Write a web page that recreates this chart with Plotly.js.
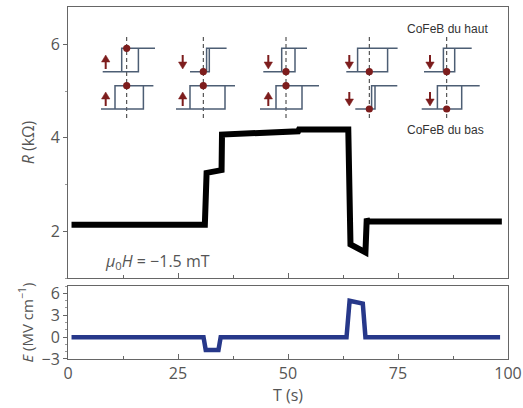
<!DOCTYPE html>
<html>
<head>
<meta charset="utf-8">
<script src="https://cdn.plot.ly/plotly-3.0.1.min.js"></script>
<style>html,body{margin:0;padding:0;background:#fff;}</style>
</head>
<body>
<div id="chart" style="width:523px;height:408px;"></div>
<script>
// ---- Data ----
const timeR = [0.8, 31.1, 31.5, 34.9, 35.0, 52.3, 52.5, 63.7, 64.2, 67.6, 67.9, 68.2, 98.6];
const resistance = [2.14, 2.14, 3.25, 3.31, 4.07, 4.14, 4.18, 4.18, 1.72, 1.55, 2.27, 2.21, 2.21];

const timeE = [0.8, 30.8, 31.3, 34.2, 34.7, 63.3, 64.0, 67.0, 67.6, 98.2];
const field = [0, 0, -1.75, -1.75, 0, 0, 5.0, 4.6, 0, 0];

const xTicks = [0, 25, 50, 75, 100];
const rTicks = [2, 4, 6];
const eTicks = [-3, 0, 3, 6];

// Inset states (5 columns): arrow direction and dot position for each layer
const topArrow = ['up', 'down', 'down', 'down', 'down'];
const bottomArrow = ['up', 'up', 'up', 'down', 'down'];
const topDot = ['top', 'bottom', 'bottom', 'bottom', 'bottom'];
const bottomDot = ['top', 'top', 'top', 'bottom', 'bottom'];

// ---- Inset geometry (schematic, in pixels) ----
const L = 68, T = 7, W = 440, H = 352;
const px = x => (x - L) / W;
const py = y => (T + H - y) / H;
const colX = [126.7, 203.3, 286, 369.3, 446.7];
// loop offsets [tailLeft, leftVertical, rightVertical, tailRight] relative to dashed line
const topLoop = [[-24, -5, 11.7, 28.3], [-13.3, 3.3, 6, 23.3], [-22.7, -4.3, 9, 21], [-23, -11.7, 18.3, 28.3], [-22.7, -3.3, 8, 25]];
const botLoop = [[-25.7, -11.7, 16.7, 26.7], [-27.3, -13.3, 21.7, 31.7], [-26, -10, 16, 33], [-14, 2.3, 5.7, 28], [-25, -9.3, 15, 33]];
const arrowDx = [-21, -20.6, -17.7, -20, -16.7];
const rows = [{yt: 48.3, yb: 71.7, a0: 55, a1: 69}, {yt: 85.7, yb: 109, a0: 92, a1: 106}];

const shapes = [];
const loopColor = '#4d5e74', redC = '#7d1d1d';
function path(pts) { return pts.map((p, i) => (p[0] === 'M' ? 'M' : (i === 0 ? 'M' : 'L')) + px(p[1]).toFixed(5) + ',' + py(p[2]).toFixed(5)).join(' '); }
colX.forEach((cx, i) => {
  shapes.push({type: 'line', xref: 'paper', yref: 'paper', x0: px(cx), x1: px(cx), y0: py(37), y1: py(118),
    line: {color: '#333', width: 1, dash: '4px,3px'}, layer: 'above'});
  [[topLoop[i], rows[0], topArrow[i], topDot[i]], [botLoop[i], rows[1], bottomArrow[i], bottomDot[i]]].forEach(([lp, r, dir, dot]) => {
    const [o0, oa, ob, o1] = lp;
    const d = path([['M', cx + o0, r.yb], ['L', cx + ob, r.yb], ['L', cx + ob, r.yt], ['L', cx + o1, r.yt],
      ['M', cx + oa, r.yb], ['L', cx + oa, r.yt], ['L', cx + ob, r.yt]]);
    shapes.push({type: 'path', xref: 'paper', yref: 'paper', path: d, line: {color: loopColor, width: 1.5}, layer: 'above'});
    const dy = dot === 'top' ? r.yt : r.yb;
    const rr = 3.6;
    shapes.push({type: 'circle', xref: 'paper', yref: 'paper', x0: px(cx - rr), x1: px(cx + rr), y0: py(dy + rr), y1: py(dy - rr),
      fillcolor: redC, line: {color: redC, width: 0}, layer: 'above'});
    const ax = cx + arrowDx[i];
    const tip = dir === 'up' ? r.a0 : r.a1;
    const tail = dir === 'up' ? r.a1 : r.a0;
    const s = dir === 'up' ? 1 : -1;
    shapes.push({type: 'line', xref: 'paper', yref: 'paper', x0: px(ax), x1: px(ax), y0: py(tail), y1: py(tip + s * 5),
      line: {color: redC, width: 2}, layer: 'above'});
    shapes.push({type: 'path', xref: 'paper', yref: 'paper',
      path: path([['M', ax, tip], ['L', ax - 4.2, tip + s * 7], ['L', ax + 4.2, tip + s * 7]]) + ' Z',
      fillcolor: redC, line: {color: redC, width: 0.5}, layer: 'above'});
  });
});

const tickFont = {family: 'Open Sans, sans-serif', size: 16, color: '#555'};
const axisCommon = {showline: true, linecolor: '#666', linewidth: 1, mirror: true, zeroline: false, showgrid: false,
  tickcolor: '#666', tickfont: tickFont};

const traces = [
  {x: timeR, y: resistance, xaxis: 'x', yaxis: 'y', mode: 'lines', line: {color: '#000', width: 6}, hoverinfo: 'skip'},
  {x: timeE, y: field, xaxis: 'x2', yaxis: 'y2', mode: 'lines', line: {color: '#27388a', width: 4.5}, hoverinfo: 'skip'}
];

const layout = {
  width: 523, height: 408,
  margin: {l: L, r: 523 - L - W, t: T, b: 408 - T - H},
  paper_bgcolor: '#fff', plot_bgcolor: '#fff',
  showlegend: false,
  xaxis: Object.assign({}, axisCommon, {domain: [0, 1], anchor: 'y', range: [0, 100], tickvals: xTicks, showticklabels: false,
    ticks: 'inside', ticklen: 5, minor: {dtick: 12.5, ticks: 'inside', ticklen: 3, tickcolor: '#666'}}),
  xaxis2: Object.assign({}, axisCommon, {domain: [0, 1], anchor: 'y2', range: [0, 100], tickvals: xTicks,
    ticks: 'inside', ticklen: 5, minor: {dtick: 12.5, ticks: 'inside', ticklen: 3, tickcolor: '#666'},
    title: {text: 'T (s)', font: {family: 'Open Sans, sans-serif', size: 16, color: '#555'}, standoff: 0}}),
  yaxis: Object.assign({}, axisCommon, {domain: [0.23, 1], anchor: 'x', range: [1.0, 6.8], tickvals: rTicks,
    ticks: 'outside', ticklen: 4, minor: {dtick: 1, ticks: 'outside', ticklen: 2, tickcolor: '#999'},
    title: {text: '<i>R</i> (kΩ)', font: {family: 'Open Sans, sans-serif', size: 16, color: '#555'}, standoff: 12}}),
  yaxis2: Object.assign({}, axisCommon, {domain: [0, 0.207], anchor: 'x2', range: [-3, 7], tickvals: eTicks,
    ticks: 'outside', ticklen: 4, minor: {dtick: 1, ticks: 'outside', ticklen: 2, tickcolor: '#999'},
    title: {text: '<i>E</i> (MV cm<sup>−1</sup>)', font: {family: 'Open Sans, sans-serif', size: 15, color: '#555'}, standoff: 4}}),
  shapes: shapes,
  annotations: [
    {xref: 'paper', yref: 'paper', x: px(103), y: py(261), xanchor: 'left', yanchor: 'middle', showarrow: false,
      text: '<i>μ</i><sub>0</sub><i>H</i> = −1.5 mT', font: {family: 'Open Sans, sans-serif', size: 16, color: '#555'}},
    {xref: 'paper', yref: 'paper', x: px(405), y: py(29), xanchor: 'left', yanchor: 'middle', showarrow: false,
      text: 'CoFeB du haut', font: {family: 'Liberation Sans, Arial, sans-serif', size: 12, color: '#333'}},
    {xref: 'paper', yref: 'paper', x: px(405), y: py(130), xanchor: 'left', yanchor: 'middle', showarrow: false,
      text: 'CoFeB du bas', font: {family: 'Liberation Sans, Arial, sans-serif', size: 12, color: '#333'}}
  ]
};

Plotly.newPlot('chart', traces, layout, {staticPlot: true, displayModeBar: false});
</script>
</body>
</html>
